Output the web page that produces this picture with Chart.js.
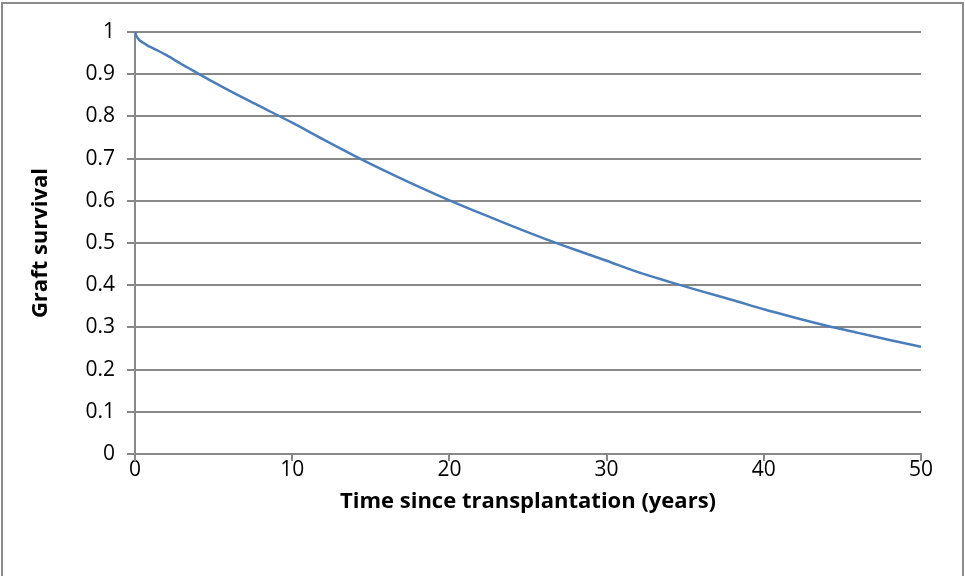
<!DOCTYPE html>
<html>
<head>
<meta charset="utf-8">
<script src="https://cdn.jsdelivr.net/npm/chart.js@4"></script>
<style>
  html, body { margin: 0; padding: 0; background: #fff; }
  #wrap { position: relative; width: 965px; height: 576px; overflow: hidden; }
  #frame { position: absolute; left: 1px; top: 2px; width: 959px; height: 600px; border: 2px solid #8c8c8c; }
  #c { position: absolute; left: 0; top: 0; }
</style>
</head>
<body>
<div id="wrap">
  <div id="frame"></div>
  <canvas id="c" width="965" height="576"></canvas>
</div>
<script>
// Tempo dal trapianto (anni) e sopravvivenza del graft
const years = [0, 0.1, 0.25, 0.5, 0.75, 1, 1.5, 2, 3, 4, 5, 6, 8, 10, 12, 14, 16, 18, 20, 22, 24, 26, 28, 30, 32, 34, 36, 38, 40, 42, 44, 46, 48, 50];
const survival = [1.0, 0.99, 0.982, 0.975, 0.969, 0.964, 0.955, 0.945, 0.923, 0.902, 0.881, 0.861, 0.823, 0.785, 0.745, 0.706, 0.669, 0.634, 0.601, 0.57, 0.54, 0.511, 0.484, 0.458, 0.431, 0.408, 0.386, 0.365, 0.343, 0.323, 0.304, 0.287, 0.27, 0.254];
const xTicks = [0, 10, 20, 30, 40, 50];
const yTicks = [0, 0.1, 0.2, 0.3, 0.4, 0.5, 0.6, 0.7, 0.8, 0.9, 1];

const gridColor = "#888888";
const font = "'Open Sans', Lato, sans-serif";

const ctx = document.getElementById("c");
new Chart(ctx, {
  type: "line",
  data: {
    datasets: [{
      data: years.map((x, i) => ({ x: x, y: survival[i] })),
      borderColor: "#4a7ebb",
      borderWidth: 2.5,
      pointRadius: 0,
      cubicInterpolationMode: "monotone",
      fill: false
    }]
  },
  options: {
    responsive: false,
    animation: false,
    layout: { padding: { left: 0, right: 44, top: 32, bottom: 61 } },
    plugins: { legend: { display: false }, tooltip: { enabled: false } },
    scales: {
      x: {
        type: "linear",
        min: 0, max: 50,
        afterBuildTicks: s => { s.ticks = xTicks.map(v => ({ value: v })); },
        afterFit: s => { s.height = 61; },
        grid: { display: false },
        border: { display: true, color: gridColor, width: 2 },
        ticks: { color: "#000", font: { family: font, size: 21 }, padding: -5, maxRotation: 0 },
        title: { display: true, text: "Time since transplantation (years)", color: "#000",
                 font: { family: font, size: 22, weight: "bold" }, padding: { top: 0, bottom: 0 } }
      },
      y: {
        min: 0, max: 1,
        afterBuildTicks: s => { s.ticks = yTicks.map(v => ({ value: v })); },
        afterFit: s => { s.width = 135; },
        grid: { color: gridColor, lineWidth: 2, tickLength: 8 },
        border: { display: true, color: gridColor, width: 2 },
        ticks: { color: "#000", font: { family: font, size: 21 }, padding: 12,
                 callback: v => String(Math.round(v * 10) / 10) },
        title: { display: true, text: "Graft survival", color: "#000",
                 font: { family: font, size: 22, weight: "bold" }, padding: { top: 28, bottom: 0 } }
      }
    }
  },
  plugins: [{
    // tacche verticali sotto l'asse x
    id: "xTickMarks",
    afterDraw(chart) {
      const c = chart.ctx, sx = chart.scales.x, bottom = chart.chartArea.bottom;
      c.save();
      c.strokeStyle = gridColor;
      c.lineWidth = 2;
      xTicks.forEach(v => {
        const px = Math.round(sx.getPixelForValue(v));
        c.beginPath();
        c.moveTo(px, bottom);
        c.lineTo(px, bottom + 7);
        c.stroke();
      });
      c.restore();
    }
  }]
});
</script>
</body>
</html>
